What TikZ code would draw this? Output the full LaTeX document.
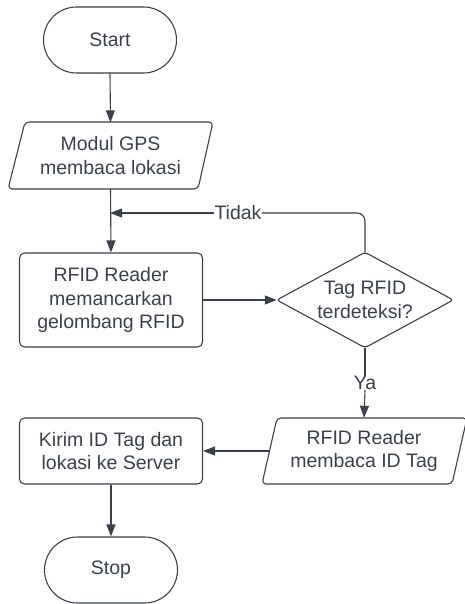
\documentclass[tikz,border=0pt]{standalone}
\usepackage{fontspec}
\setmainfont{Liberation Sans}
\usetikzlibrary{arrows.meta}
\definecolor{ink}{HTML}{3A414A}
\begin{document}
\begin{tikzpicture}[x=1pt,y=-1pt,
  every node/.style={font=\fontsize{19.5}{23.5}\selectfont, text=ink, align=center, inner sep=0pt},
  line/.style={draw=ink, line width=1.1pt},
  arr/.style={line, -{Triangle[length=12pt,width=9pt]}},
  term/.style={line, rounded corners=33pt, minimum width=133pt, minimum height=66pt},
  procbox/.style={line, rounded corners=5pt, minimum width=183pt},
  ghost/.style={minimum width=189pt, minimum height=66pt},
  decide/.style={minimum width=176pt, minimum height=95pt}]
\useasboundingbox (0,0) rectangle (465,604);
\node[term] (start) at (110,40) {Start};
% GPS parallelogram
\node[ghost] (gps) at (110.5,155.5) {Modul GPS\\membaca lokasi};
\draw[line, rounded corners=4pt] (25,122) -- (213,122) -- (198,189) -- (8,189) -- cycle;
\node[procbox, minimum height=94pt] (emit) at (111,300) {RFID Reader\\memancarkan\\gelombang RFID};
% decision diamond
\node[decide] (dec) at (365,300) {Tag RFID\\terdeteksi?};
\draw[line, rounded corners=3pt] (dec.north) -- (dec.east) -- (dec.south) -- (dec.west) -- cycle;
\node (ya) at (365,383) {Ya};
% reader parallelogram
\node[ghost] (read) at (364,451) {RFID Reader\\membaca ID Tag};
\draw[line, rounded corners=4pt] (277,418) -- (467,418) -- (452,484) -- (262,484) -- cycle;
\node[procbox, minimum height=66pt] (send) at (111,451) {Kirim ID Tag dan\\lokasi ke Server};
\node[term] (stop) at (111,570) {Stop};
\coordinate (join) at (110,213);
\node (tidak) at (238,213) {Tidak};
\draw[arr] (start.south) -- (gps.north);
\draw[arr] (gps.south) -- (emit.north);
\draw[arr] (emit.east) -- (dec.west);
\draw[line, rounded corners=8pt] (dec.north) -- (365,213) -- (tidak.east);
\draw[arr] (tidak.west) -- (join);
\draw[line] (dec.south) -- (ya.north);
\draw[arr] (ya.south) -- (read.north);
\draw[arr] (read.west) -- (send.east);
\draw[arr] (send.south) -- (stop.north);
\end{tikzpicture}
\end{document}
